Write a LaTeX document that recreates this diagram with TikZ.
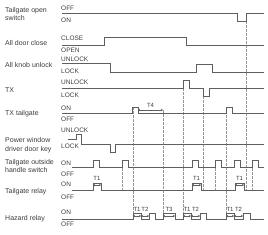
\documentclass[tikz,border=0pt]{standalone}
\usepackage{fontspec}
\setmainfont{Liberation Sans}
\usepackage{tikz}
\usetikzlibrary{positioning,arrows.meta}
\definecolor{wavegray}{RGB}{95,95,95}
\definecolor{guidegray}{RGB}{150,150,150}
\definecolor{textgray}{RGB}{60,60,60}
\tikzset{
  sig/.style={anchor=west, inner sep=0pt, align=left, text=textgray, font=\fontsize{7}{8.5}\selectfont},
  lvl/.style={anchor=west, inner sep=0pt, text=textgray, font=\fontsize{6.5}{7}\selectfont},
  tlbl/.style={inner sep=0pt, text=textgray, font=\fontsize{6}{7}\selectfont},
  wave/.style={draw=wavegray, line width=0.8pt},
  guide/.style={draw=guidegray, line width=0.5pt, dash pattern=on 2.5pt off 1.5pt},
  tspan/.style={{Stealth[length=2pt,width=2.5pt]}-{Stealth[length=2pt,width=2.5pt]}, draw=wavegray, line width=0.5pt},
}

\begin{document}
\begin{tikzpicture}[x=1pt, y=-1pt]
  \useasboundingbox (0,0) rectangle (268,234);

  % signal names
  \node[sig] (nopen)   at (5,14)  {Tailgate open\\switch};
  \node[sig] (ndoor)   at (5,43)  {All door close};
  \node[sig] (nknob)   at (5,65)  {All knob unlock};
  \node[sig] (ntx)     at (5,90)  {TX};
  \node[sig] (ntxtg)   at (5,114) {TX tailgate};
  \node[sig] (npw)     at (5,145) {Power window\\driver door key};
  \node[sig] (nhandle) at (5,166) {Tailgate outside\\handle switch};
  \node[sig] (nrelay)  at (5,192) {Tailgate relay};
  \node[sig] (nhaz)    at (5,219) {Hazard relay};

  % levels
  \node[lvl] (open-off)   at (61,8)   {OFF};
  \node[lvl] (open-on)    at (61,20)  {ON};
  \node[lvl] (door-close) at (61,38)  {CLOSE};
  \node[lvl] (door-open)  at (61,50)  {OPEN};
  \node[lvl] (knob-un)    at (61,59)  {UNLOCK};
  \node[lvl] (knob-lock)  at (61,71)  {LOCK};
  \node[lvl] (tx-un)      at (61,82)  {UNLOCK};
  \node[lvl] (tx-lock)    at (61,95)  {LOCK};
  \node[lvl] (txtg-on)    at (61,108) {ON};
  \node[lvl] (txtg-off)   at (61,119) {OFF};
  \node[lvl] (pw-un)      at (61,130) {UNLOCK};
  \node[lvl] (pw-lock)    at (61,146) {LOCK};
  \node[lvl] (hs-on)      at (61,163) {ON};
  \node[lvl] (hs-off)     at (61,174) {OFF};
  \node[lvl] (rl-on)      at (61,184) {ON};
  \node[lvl] (rl-off)     at (61,197) {OFF};
  \node[lvl] (hz-on)      at (61,212) {ON};
  \node[lvl] (hz-off)     at (61,224) {OFF};

  % guide lines
  \draw[guide] (133,107) -- (133,213);
  \draw[guide] (163,110) -- (163,213);
  \draw[guide] (183,88)  -- (183,213);
  \draw[guide] (203,96)  -- (203,190);
  \draw[guide] (226,107) -- (226,213);
  \draw[guide] (246,21)  -- (246,190);
  \draw[guide] (122,160) -- (122,190);
  \draw[guide] (215,160) -- (215,190);
  \draw[guide] (252,160) -- (252,190);

  % waveforms
  \draw[wave] (62,13) -- (237,13) |- (246,21) |- (264,13);
  \draw[wave] (62,45) -- (104,45) |- (186,37) |- (264,45);
  \draw[wave] (62,63) -- (110,63) |- (196,72) |- (212,64) |- (264,72);
  \draw[wave] (62,88) -- (183,88) |- (189,80) |- (203,88) |- (209,96) |- (264,88);
  \draw[wave] (62,113) -- (132,113) |- (138,107) |- (226,113) |- (232,107) |- (264,113);
  \draw[wave] (68,139) -- (76,139) |- (81,134) |- (110,144) |- (115,152) |- (264,144);
  \draw[wave] (72,167) -- (93,167)
    \foreach \a/\b/\c in {93/99/122, 122/128/192, 192/198/215, 215/221/234, 234/240/252, 252/258/264} {
      |- (\b,160) |- (\c,167)};
  \draw[wave] (72,190) -- (93,190) |- (101,183) |- (192,190) |- (201,183) |- (235,190)
    |- (244,183) |- (264,190);
  \draw[wave] (62,219) -- (133,219) |- (141,213) |- (149,219) |- (155,213) |- (163,219)
    |- (175,213) |- (183,219) |- (191,213) |- (200,219) |- (206,213) |- (226,219)
    |- (234,213) |- (243,219) |- (250,213) |- (264,219);

  % timing spans
  \draw[tspan] (138,110) -- (163,110) node[tlbl, midway, above=2pt] (t4) {T4};
  \foreach \a/\b/\n in {93/101/ra, 192/201/rb, 235/244/rc} {
    \draw[tspan] (\a,185) -- (\b,185) node[tlbl, midway, above=4pt] (\n) {T1};
  }
  \foreach \a/\b/\c/\n in {133/141/149/ha, 183/191/200/hb, 226/234/243/hc} {
    \draw[tspan] (\a,216) -- (\b,216) node[tlbl, midway, above=4pt] (\n1) {T1};
    \draw[tspan] (\b,216) -- (\c,216) node[tlbl, midway, above=4pt] (\n2) {T2};
  }
  \draw[tspan] (163,216) -- (175,216) node[tlbl, midway, above=4pt] (t3) {T3};
\end{tikzpicture}
\end{document}
